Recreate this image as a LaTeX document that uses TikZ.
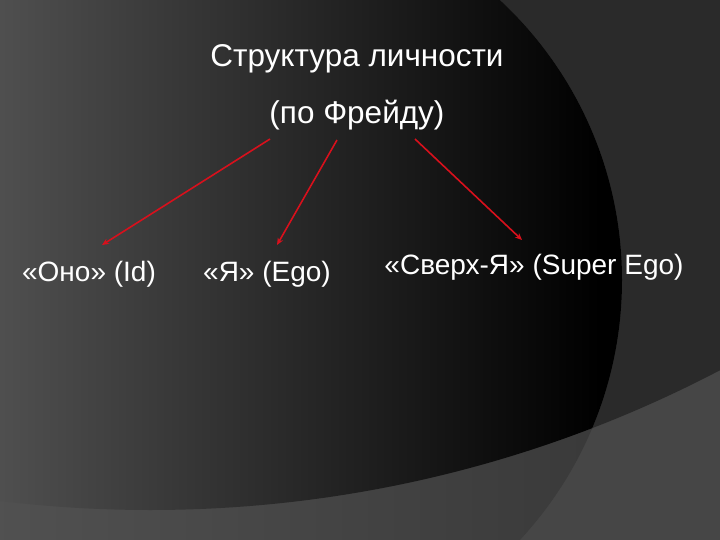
\documentclass[tikz,border=0pt]{standalone}
\usepackage{fontspec}
\setmainfont{Liberation Sans}
\usetikzlibrary{arrows.meta,calc}
\definecolor{bglight}{HTML}{464646}
\definecolor{bgdark}{HTML}{2A2A2A}
\definecolor{alight}{HTML}{515151}
\definecolor{amid}{HTML}{383838}
\definecolor{abtop}{HTML}{575757}
\definecolor{arrred}{HTML}{D8101C}
\begin{document}
\begin{tikzpicture}[x=1pt,y=-1pt,
  lbl/.style={text=white,font=\fontsize{28}{30}\selectfont,inner sep=0pt,anchor=base},
  hdr/.style={text=white,font=\fontsize{31.5}{34}\selectfont,inner sep=0pt,anchor=base},
  arr/.style={draw=arrred,line width=1.6pt,-{Stealth[length=7pt,width=6pt]}}]
\useasboundingbox (0,0) rectangle (720,540);
\begin{scope}
  \clip (0,0) rectangle (720,540);
  \fill[bglight] (0,0) rectangle (720,540);
  \fill[bgdark] (150,-720) circle[radius=1230pt];
  \begin{scope}
    \clip (240,280) circle[radius=382pt];
    \shade[left color=alight, right color=amid] (-10,0) rectangle (640,540);
    \clip (150,-720) circle[radius=1230pt];
    \shade[left color=abtop, right color=black] (-60,0) rectangle (600,540);
    \fill[black] (600,0) rectangle (640,540);
  \end{scope}
\end{scope}
\node[hdr] (title) at (357,67) {Структура личности};
\node[hdr] (sub) at (357,124) {(по Фрейду)};
\node[lbl] (id) at (89,281) {«Оно» (Id)};
\node[lbl] (ego) at (267,281) {«Я» (Ego)};
\node[lbl] (sup) at (534,274) {«Сверх-Я» (Super Ego)};
\draw[arr] ($(sub.base)+(-87,15)$) -- ($(id.base)+(13,-36)$);
\draw[arr] ($(sub.base)+(-20,16)$) -- ($(ego.base)+(10,-36)$);
\draw[arr] ($(sub.base)+(58,15)$) -- ($(sup.base)+(-12,-34)$);
\end{tikzpicture}
\end{document}
